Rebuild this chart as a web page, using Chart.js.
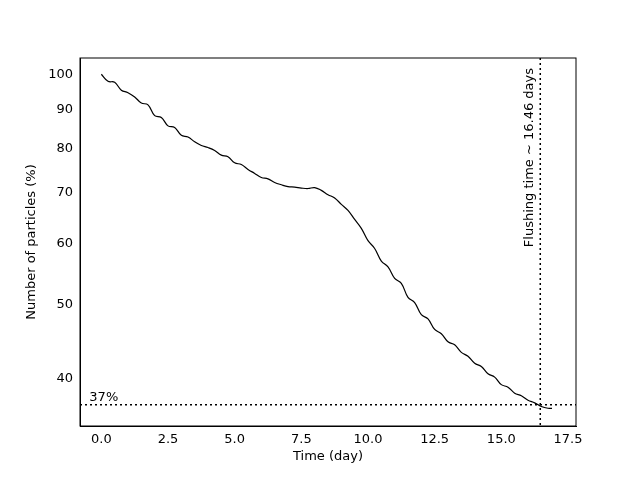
<!DOCTYPE html>
<html><head><meta charset="utf-8">
<script src="https://cdn.jsdelivr.net/npm/chart.js@4"></script>
<style>body{margin:0;background:#fff}#c{display:block}</style>
</head><body>
<canvas id="c" width="640" height="480"></canvas>
<script>
const days = [0,0.25,0.5,0.75,1,1.25,1.5,1.75,2,2.25,2.5,2.75,3,3.25,3.5,3.75,4,4.25,4.5,4.75,5,5.25,5.5,5.75,6,6.25,6.5,6.75,7,7.25,7.5,7.75,8,8.25,8.5,8.75,9,9.25,9.5,9.75,10,10.25,10.5,10.75,11,11.25,11.5,11.75,12,12.25,12.5,12.75,13,13.25,13.5,13.75,14,14.25,14.5,14.75,15,15.25,15.5,15.75,16,16.25,16.5,16.75,16.9];
const particles = [100,97.9,97.6,95.3,94.6,93.4,91.7,91.2,88.3,87.8,85.6,85.2,83.2,82.8,81.6,80.7,80.2,79.5,78.4,78.0,76.6,76.2,75.1,74.2,73.3,73.0,72.2,71.7,71.3,71.2,71.0,70.9,71.1,70.5,69.6,68.9,67.6,66.4,64.6,62.9,60.6,59.2,57.0,56.0,54.1,53.3,51.1,50.3,48.5,47.9,46.4,45.8,44.7,44.3,43.3,42.8,41.9,41.5,40.6,40.2,39.3,39.0,38.3,38.0,37.5,37.2,36.8,36.6,36.6];
const yTicks = [40,50,60,70,80,90,100];
const xTicks = [0,2.5,5,7.5,10,12.5,15,17.5];
const flushDay = 16.46, threshold = 37;
const font = {family:'"DejaVu Sans"', size:13};

const overlay = {
  id:'overlay',
  afterDatasetsDraw(chart){
    const {ctx, chartArea:a, scales:{x,y}} = chart;
    ctx.save();
    ctx.strokeStyle='#000'; ctx.lineWidth=1.5; ctx.setLineDash([2,3]);
    const px = x.getPixelForValue(flushDay), py = y.getPixelForValue(threshold);
    ctx.beginPath(); ctx.moveTo(px,a.top); ctx.lineTo(px,a.bottom); ctx.stroke();
    ctx.beginPath(); ctx.moveTo(a.left,py); ctx.lineTo(a.right,py); ctx.stroke();
    ctx.setLineDash([]);
    ctx.fillStyle='#000'; ctx.font='13px "DejaVu Sans"';
    ctx.textBaseline='bottom'; ctx.textAlign='left';
    ctx.fillText('37%', x.getPixelForValue(-0.45), py-1);
    ctx.translate(px-4, a.top+10); ctx.rotate(-Math.PI/2);
    ctx.textAlign='right'; ctx.textBaseline='bottom';
    ctx.fillText('Flushing time ~ 16.46 days', 0, 0);
    ctx.restore();
  }
};

new Chart(document.getElementById('c'), {
  type:'line',
  data:{datasets:[{data:days.map((d,i)=>({x:d,y:particles[i]})),borderColor:'#000',borderWidth:1.2,pointRadius:0,tension:0.4,fill:false}]},
  options:{
    responsive:false, animation:false,
    layout:{padding:{top:58,right:64,left:20,bottom:12}},
    plugins:{legend:{display:false},tooltip:{enabled:false}},
    scales:{
      x:{type:'linear',min:-0.8,max:17.8,
        afterBuildTicks:s=>{s.ticks=xTicks.map(v=>({value:v}));},
        afterFit:s=>{s.height=42;},
        grid:{display:false,drawTicks:true,tickLength:4,tickColor:'#000'},
        border:{color:'#000'},
        ticks:{color:'#000',font,padding:2,callback:v=>String(v===Math.floor(v)?v.toFixed(1):v)},
        title:{display:true,text:'Time (day)',color:'#000',font,padding:{top:0}}},
      y:{type:'logarithmic',min:34.7,max:105,
        afterBuildTicks:s=>{s.ticks=yTicks.map(v=>({value:v}));},
        afterFit:s=>{s.width=60;},
        grid:{display:false,drawTicks:true,tickLength:4,tickColor:'#000'},
        border:{color:'#000'},
        ticks:{color:'#000',font,callback:v=>String(v)},
        title:{display:true,text:'Number of particles (%)',color:'#000',font}}
    }
  },
  plugins:[overlay,{id:'box',afterDraw(c){const a=c.chartArea,x=c.ctx;x.save();x.strokeStyle='#000';x.lineWidth=1;x.strokeRect(a.left,a.top,a.right-a.left,a.bottom-a.top);x.restore();}}]
});
</script>
</body></html>
